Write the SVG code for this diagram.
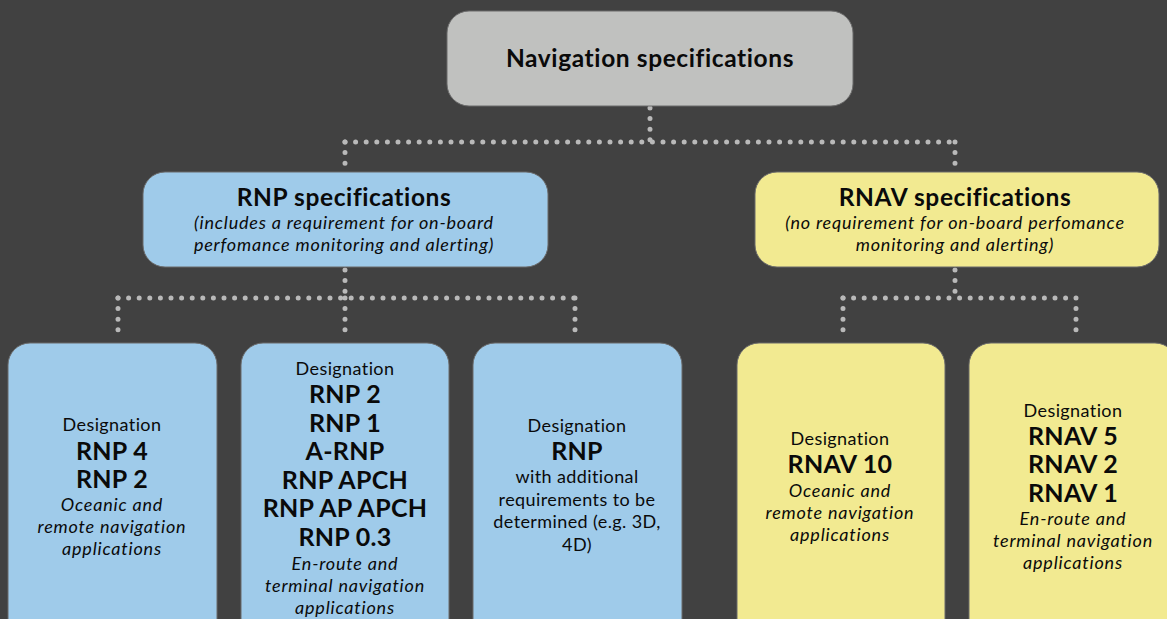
<svg xmlns="http://www.w3.org/2000/svg" width="1167" height="619" viewBox="0 0 1167 619">
<style>
.bg{fill:#414141}
.box{stroke:#6b6b6b;stroke-width:1}
.gray{fill:#c0c1bf}
.blue{fill:#9fcbea}
.yellow{fill:#f2ea91}
text{font-family:Lato,"Liberation Sans",sans-serif;fill:#0a0a0a;text-anchor:middle}
.h{font-weight:700;font-size:24.5px;letter-spacing:0.6px}
.b{font-weight:700;font-size:25px;letter-spacing:0.3px}
.n{font-size:18px;letter-spacing:0.4px}
.i{font-style:italic;font-size:18px;letter-spacing:0.8px}
.dots{fill:none;stroke:#b9b9b9;stroke-width:5;stroke-linecap:round;stroke-dasharray:0 10.6}
</style>
<rect class="bg" x="0" y="0" width="1167" height="619"/>
<g id="connectors">
<path class="dots" d="M650 108 V142"/>
<path class="dots" d="M345 142 H955"/>
<path class="dots" d="M345 142 V169"/>
<path class="dots" d="M955 142 V169"/>
<path class="dots" d="M345 270 V298"/>
<path class="dots" d="M118 298 H575"/>
<path class="dots" d="M118 298 V340"/>
<path class="dots" d="M345 298 V340"/>
<path class="dots" d="M575 298 V340"/>
<path class="dots" d="M955 270 V298"/>
<path class="dots" d="M843 298 H1076"/>
<path class="dots" d="M843 298 V340"/>
<path class="dots" d="M1076 298 V340"/>
</g>
<g id="nav-spec">
<rect class="box gray" x="447" y="11" width="406" height="95" rx="22"/>
<text class="h" x="650" y="67">Navigation specifications</text>
</g>
<g id="rnp-spec">
<rect class="box blue" x="143" y="172" width="405" height="95" rx="22"/>
<text class="h" x="344" y="206">RNP specifications</text>
<text class="i" x="344" y="229">(includes a requirement for on-board</text>
<text class="i" x="344" y="251">perfomance monitoring and alerting)</text>
</g>
<g id="rnav-spec">
<rect class="box yellow" x="755" y="172" width="404" height="95" rx="22"/>
<text class="h" x="955" y="206">RNAV specifications</text>
<text class="i" x="955" y="229">(no requirement for on-board perfomance</text>
<text class="i" x="955" y="251">monitoring and alerting)</text>
</g>
<g id="rnp4">
<rect class="box blue" x="8" y="343" width="209" height="300" rx="22"/>
<text class="n" x="112" y="431">Designation</text>
<text class="b" x="112" y="460">RNP 4</text>
<text class="b" x="112" y="488">RNP 2</text>
<text class="i" x="112" y="511">Oceanic and</text>
<text class="i" x="112" y="533">remote navigation</text>
<text class="i" x="112" y="555">applications</text>
</g>
<g id="rnp2">
<rect class="box blue" x="241" y="343" width="208" height="300" rx="22"/>
<text class="n" x="345" y="375">Designation</text>
<text class="b" x="345" y="403">RNP 2</text>
<text class="b" x="345" y="431.5">RNP 1</text>
<text class="b" x="345" y="460">A-RNP</text>
<text class="b" x="345" y="488.5">RNP APCH</text>
<text class="b" x="345" y="517">RNP AP APCH</text>
<text class="b" x="345" y="545.5">RNP 0.3</text>
<text class="i" x="345" y="570">En-route and</text>
<text class="i" x="345" y="592">terminal navigation</text>
<text class="i" x="345" y="614">applications</text>
</g>
<g id="rnp-additional">
<rect class="box blue" x="473" y="343" width="209" height="300" rx="22"/>
<text class="n" x="577" y="432">Designation</text>
<text class="b" x="577" y="460">RNP</text>
<text class="n" x="577" y="483">with additional</text>
<text class="n" x="577" y="506">requirements to be</text>
<text class="n" x="577" y="528">determined (e.g. 3D,</text>
<text class="n" x="577" y="551">4D)</text>
</g>
<g id="rnav10">
<rect class="box yellow" x="737" y="343" width="208" height="300" rx="22"/>
<text class="n" x="840" y="445">Designation</text>
<text class="b" x="840" y="473">RNAV 10</text>
<text class="i" x="840" y="497">Oceanic and</text>
<text class="i" x="840" y="519">remote navigation</text>
<text class="i" x="840" y="541">applications</text>
</g>
<g id="rnav5">
<rect class="box yellow" x="969" y="343" width="208" height="300" rx="22"/>
<text class="n" x="1073" y="417">Designation</text>
<text class="b" x="1073" y="445">RNAV 5</text>
<text class="b" x="1073" y="473">RNAV 2</text>
<text class="b" x="1073" y="502">RNAV 1</text>
<text class="i" x="1073" y="525">En-route and</text>
<text class="i" x="1073" y="547">terminal navigation</text>
<text class="i" x="1073" y="569">applications</text>
</g>
</svg>
